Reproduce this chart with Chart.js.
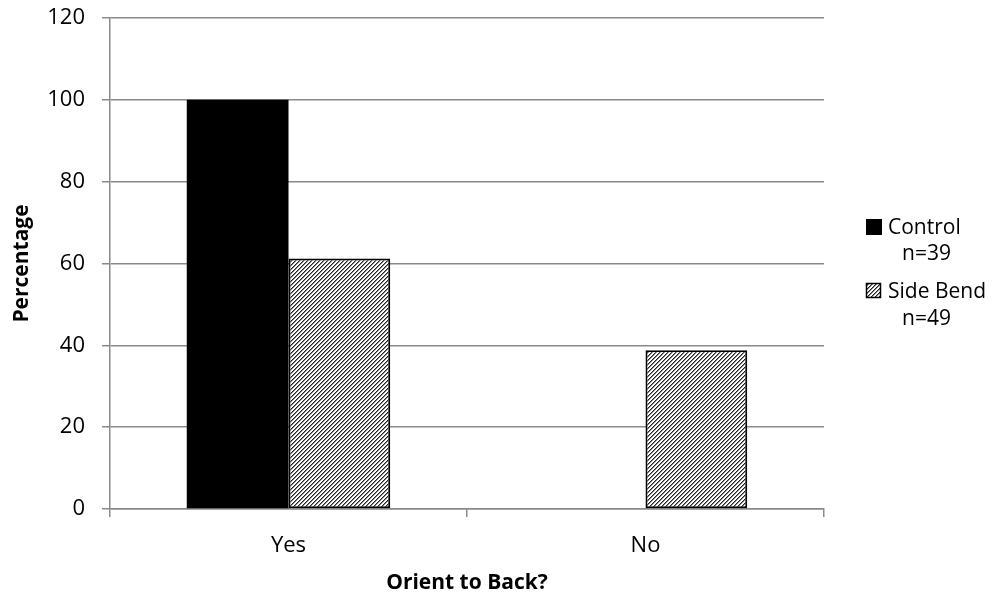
<!DOCTYPE html>
<html>
<head>
<meta charset="utf-8">
<script src="https://cdn.jsdelivr.net/npm/chart.js@4/dist/chart.umd.min.js"></script>
<style>
  html, body { margin: 0; padding: 0; background: #fff; }
  #wrap { width: 1000px; height: 601px; position: relative; }
</style>
</head>
<body>
<div id="wrap"><canvas id="chart" width="1000" height="601"></canvas></div>
<script>
const categories = ["Yes", "No"];
const seriesNames = ["Control", "Side Bend"];
const seriesCounts = ["n=39", "n=49"];
const controlValues = [100, 0];
const sideBendValues = [61.2, 38.8];
const yTicks = [0, 20, 40, 60, 80, 100, 120];

const FONT = "'Open Sans', 'Liberation Sans', sans-serif";
const GRID = "#8a8a8a";

function makeHatch() {
  // small repeating tile of "/" stripes
  const c = document.createElement("canvas");
  c.width = 4;
  c.height = 4;
  const g = c.getContext("2d");
  g.fillStyle = "#fff";
  g.fillRect(0, 0, 4, 4);
  for (let y = 0; y < 4; y++) {
    for (let x = 0; x < 4; x++) {
      const k = (x + y) % 4;
      if (k === 3) { g.fillStyle = "#222"; g.fillRect(x, y, 1, 1); }
      if (k === 0) { g.fillStyle = "#888"; g.fillRect(x, y, 1, 1); }
    }
  }
  return g.createPattern(c, "repeat");
}

const hatch = makeHatch();

const legendPlugin = {
  id: "sideLegend",
  afterDraw(chart) {
    const ctx = chart.ctx;
    ctx.save();
    ctx.font = "21px " + FONT;
    ctx.fillStyle = "#000";
    ctx.textBaseline = "alphabetic";
    ctx.textAlign = "left";

    // Control
    ctx.fillStyle = "#000";
    ctx.fillRect(866, 219, 16, 16);
    ctx.fillText(seriesNames[0], 888, 234);
    ctx.fillText(seriesCounts[0], 902, 260);

    // Side Bend
    ctx.fillStyle = hatch;
    ctx.fillRect(866, 283, 15, 15);
    ctx.strokeStyle = "#000";
    ctx.lineWidth = 1.5;
    ctx.strokeRect(866.5, 283.5, 14, 14);
    ctx.fillStyle = "#000";
    ctx.fillText(seriesNames[1], 888, 298);
    ctx.fillText(seriesCounts[1], 902, 325);
    ctx.restore();
  }
};

new Chart(document.getElementById("chart"), {
  type: "bar",
  data: {
    labels: categories,
    datasets: [
      {
        label: seriesNames[0],
        data: controlValues,
        backgroundColor: "#000",
        borderWidth: 0,
        categoryPercentage: 0.57,
        barPercentage: 1.0
      },
      {
        label: seriesNames[1],
        data: sideBendValues,
        backgroundColor: hatch,
        borderColor: "#000",
        borderWidth: 2,
        borderSkipped: false,
        categoryPercentage: 0.57,
        barPercentage: 1.0
      }
    ]
  },
  options: {
    responsive: false,
    animation: false,
    devicePixelRatio: 1,
    layout: { padding: { top: 18, right: 176, left: 0, bottom: 0 } },
    plugins: {
      legend: { display: false },
      tooltip: { enabled: false }
    },
    scales: {
      x: {
        grid: {
          display: true,
          drawOnChartArea: false,
          offset: true,
          tickLength: 8,
          color: GRID,
          lineWidth: 1.5
        },
        border: { color: GRID, width: 1.5 },
        ticks: {
          color: "#000",
          padding: 16,
          font: { family: FONT, size: 22 }
        },
        title: {
          display: true,
          text: "Orient to Back?",
          color: "#000",
          padding: { top: 0, bottom: 5 },
          font: { family: FONT, size: 21, weight: "bold" }
        },
        afterFit(scale) {
          scale.height = 92;
          scale.paddingLeft = 0;
          scale.paddingRight = 0;
        }
      },
      y: {
        min: 0,
        max: 120,
        afterBuildTicks(scale) {
          scale.ticks = yTicks.map((v) => ({ value: v }));
        },
        grid: {
          color: GRID,
          lineWidth: 1.5,
          tickLength: 8
        },
        border: { color: GRID, width: 1.5 },
        ticks: {
          color: "#000",
          padding: 17,
          font: { family: FONT, size: 22 }
        },
        title: {
          display: true,
          text: "Percentage",
          color: "#000",
          padding: { top: 9, bottom: 0 },
          font: { family: FONT, size: 21, weight: "bold" }
        },
        afterFit(scale) {
          scale.width = 110;
          scale.paddingTop = 0;
          scale.paddingBottom = 0;
        }
      }
    }
  },
  plugins: [legendPlugin]
});
</script>
</body>
</html>
